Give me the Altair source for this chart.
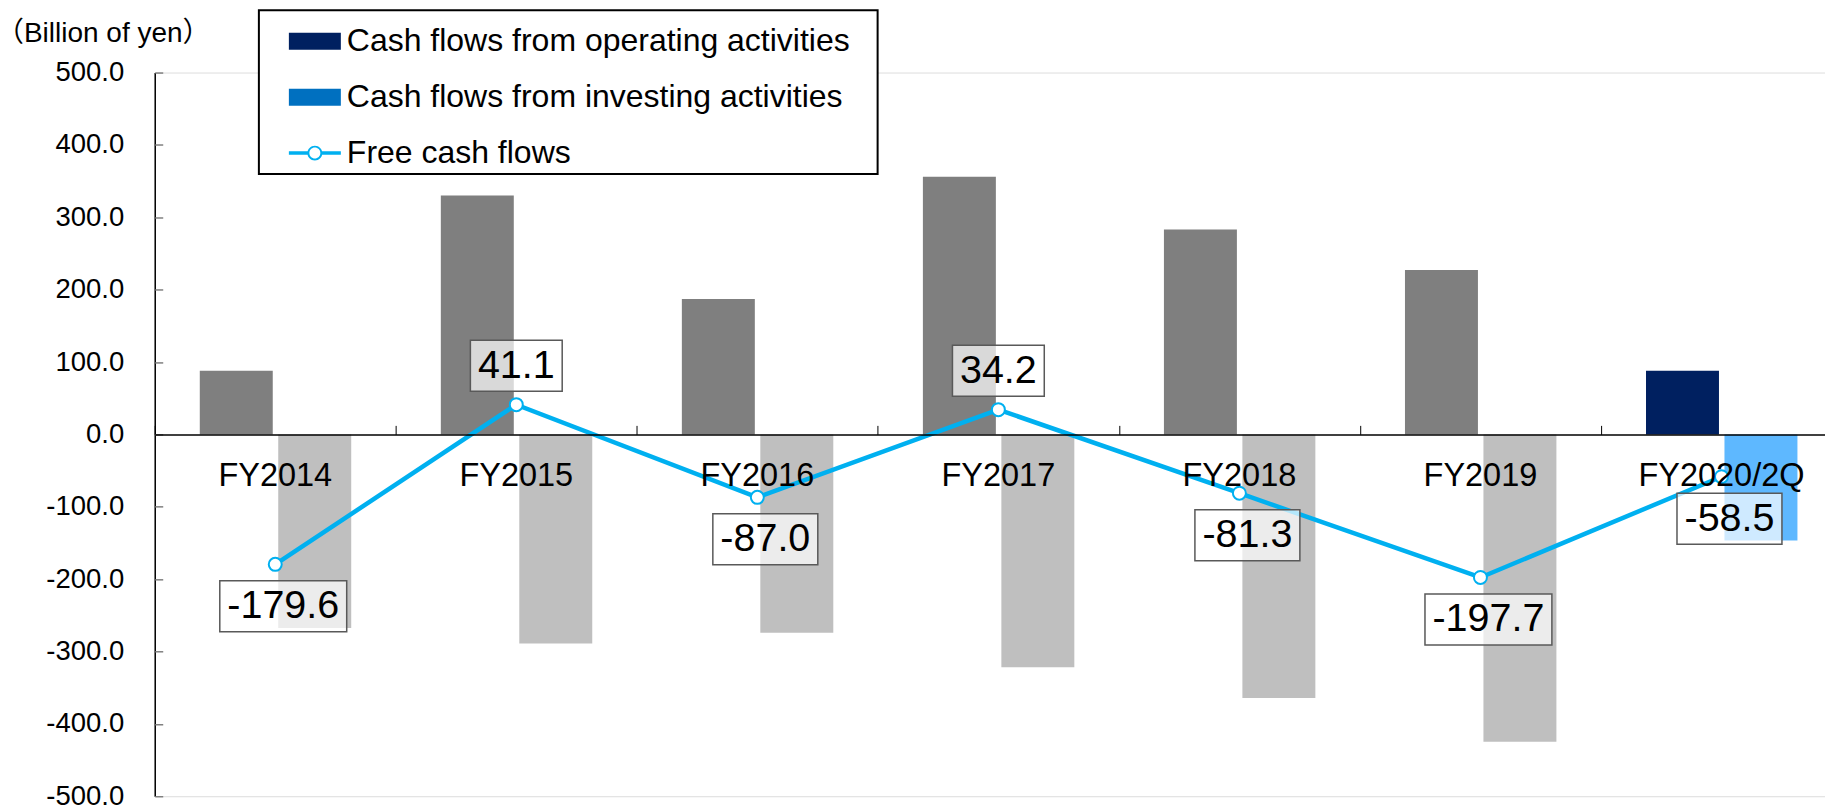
import altair as alt
import pandas as pd

# ---------------- data ----------------
categories = ["FY2014", "FY2015", "FY2016", "FY2017", "FY2018", "FY2019", "FY2020/2Q"]
operating = [88.0, 330.0, 187.0, 356.0, 283.0, 227.0, 88.0]
investing = [-267.6, -288.9, -274.0, -321.8, -364.3, -424.7, -146.5]
free_cf = [-179.6, 41.1, -87.0, 34.2, -81.3, -197.7, -58.5]
legend_names = [
    "Cash flows from operating activities",
    "Cash flows from investing activities",
    "Free cash flows",
]
y_ticks = [-500, -400, -300, -200, -100, 0, 100, 200, 300, 400, 500]

# ---------------- styles ----------------
FONT = "Liberation Sans"
OP_PAST, OP_NOW = "#7F7F7F", "#002060"
INV_PAST, INV_NOW = "#BFBFBF", "#5EB8FF"
LINE_C = "#00B0F0"
legend_colors = ["#002060", "#0070C0", "#00B0F0"]
RECT_PATH = "M-1,-0.327H1V0.327H-1Z"
LINE_PATH = (
    "M-1,-0.067V0.067H-0.25V-0.067Z "
    "M0.25,-0.067V0.067H1V-0.067Z "
    "M0.288,0A0.288,0.288 0 1,0 -0.288,0A0.288,0.288 0 1,0 0.288,0Z "
    "M0.212,0A0.212,0.212 0 1,1 -0.212,0A0.212,0.212 0 1,1 0.212,0Z"
)

W, H = 1671, 724
BAND_RANGE = [0, 1688]
LEFT, TOP = 154.8, 72.4
LABEL_FS = 39.5
NEG_DX, NEG_DY, POS_DY = 8, 42, -39

current = categories[-1]
op_df = pd.DataFrame({
    "cat": categories,
    "value": operating,
    "color": [OP_NOW if c == current else OP_PAST for c in categories],
})
inv_df = pd.DataFrame({
    "cat": categories,
    "value": investing,
    "color": [INV_NOW if c == current else INV_PAST for c in categories],
})
fcf_df = pd.DataFrame({
    "cat": categories,
    "fcf": free_cf,
    "label": [f"{v:.1f}" for v in free_cf],
})
leg_df = pd.DataFrame({"name": legend_names})

x_scale = alt.Scale(domain=categories, range=BAND_RANGE, paddingInner=0, paddingOuter=0)
y_scale = alt.Scale(domain=[-500, 500], nice=False, zero=False)

x_bottom = alt.X(
    "cat:N", sort=categories, scale=x_scale, title=None,
    axis=alt.Axis(
        orient="bottom", offset=-362, ticks=False, domainColor="black", domainWidth=1.5,
        labelFont=FONT, labelFontSize=32.5, labelColor="black", labelPadding=25,
        labelAngle=0, labelLimit=500, zindex=1, grid=False,
    ),
)
x_top = alt.X(
    "cat:N", sort=categories, scale=x_scale, title=None,
    axis=alt.Axis(
        orient="top", offset=-362, labels=False, domain=False, ticks=True,
        tickBand="extent", tickSize=9, tickColor="black", tickWidth=1, grid=False,
    ),
)
x_none = alt.X("cat:N", sort=categories, scale=x_scale, axis=None)

y_left = alt.Y(
    "value:Q", scale=y_scale,
    axis=alt.Axis(
        orient="left", values=y_ticks, ticks=False, domainColor="black", domainWidth=1.5,
        labelFont=FONT, labelFontSize=27.5, labelColor="black", labelPadding=31,
        labelExpr="replace(format(datum.value, '.1f'), '\u2212', '-')",
        title="\uff08Billion of yen\uff09", titleFont=FONT + ", Noto Sans CJK JP",
        titleFontSize=28, titleFontWeight="normal", titleColor="black",
        titleAngle=0, titleX=-52, titleY=-39, titleAlign="center", titleBaseline="middle",
        grid=False,
    ),
)
y_right = alt.Y(
    "value:Q", scale=y_scale,
    axis=alt.Axis(
        orient="right", offset=-W, values=y_ticks, labels=False, domain=False,
        ticks=True, tickSize=8, tickColor="#808080", tickWidth=1.5, title=None, grid=False,
    ),
)

op_bars = alt.Chart(op_df).mark_bar(width=73, xOffset=-39).encode(
    x=x_bottom, y=y_left, fill=alt.Fill("color:N", scale=None)
)
inv_bars = alt.Chart(inv_df).mark_bar(width=73, xOffset=39.5).encode(
    x=x_top, y=y_right, fill=alt.Fill("color:N", scale=None)
)

fcf_base = alt.Chart(fcf_df)
y_fcf = alt.Y("fcf:Q", scale=y_scale, axis=None)

line = fcf_base.mark_line(color=LINE_C, strokeWidth=4.5).encode(x=x_none, y=y_fcf)
pts = fcf_base.mark_point(
    filled=True, fill="white", stroke=LINE_C, strokeWidth=2, size=169, opacity=1
).encode(x=x_none, y=y_fcf)

boxes = fcf_base.transform_calculate(
    neg="datum.fcf < 0 ? 1 : 0"
).transform_calculate(
    w="15 + 21.96*(length(datum.label) - 1 - datum.neg) + 10.98 + 13.15*datum.neg",
    cy=f"datum.neg ? {NEG_DY} : {POS_DY}",
    cx=f"datum.neg ? {NEG_DX} : 0",
).transform_calculate(
    path=(
        "'M' + (datum.cx - datum.w/2)/(datum.w/2) + ',' + (datum.cy - 25.5)/(datum.w/2)"
        " + 'H' + (datum.cx + datum.w/2)/(datum.w/2) + 'V' + (datum.cy + 25.5)/(datum.w/2)"
        " + 'H' + (datum.cx - datum.w/2)/(datum.w/2) + 'Z'"
    ),
    sz="datum.w*datum.w",
).mark_point(
    filled=True, fill="white", fillOpacity=0.7, stroke="#595959", strokeWidth=1.5, opacity=1
).encode(
    x=x_none, y=y_fcf,
    shape=alt.Shape("path:N", scale=None),
    size=alt.Size("sz:Q", scale=None),
)

txt_neg = fcf_base.transform_filter("datum.fcf < 0").mark_text(
    font=FONT, fontSize=LABEL_FS, color="black", baseline="middle", dy=NEG_DY, dx=NEG_DX
).encode(x=x_none, y=y_fcf, text="label:N")
txt_pos = fcf_base.transform_filter("datum.fcf >= 0").mark_text(
    font=FONT, fontSize=LABEL_FS, color="black", baseline="middle", dy=POS_DY
).encode(x=x_none, y=y_fcf, text="label:N")

leg = alt.Legend(
    title="\u00a0", titleOrient="right", titleFontSize=2, titlePadding=23,
    orient="none", legendX=259 - LEFT, legendY=10 - TOP, padding=5,
    strokeColor="black", fillColor="white",
    labelFont=FONT, labelFontSize=32, labelColor="black", labelLimit=1000,
    symbolOffset=25, labelOffset=6,
    symbolSize=2704, symbolStrokeWidth=0, symbolOpacity=1, rowPadding=14,
)
legend_layer = alt.Chart(leg_df).mark_point(filled=True, opacity=0).encode(
    fill=alt.Fill("name:N", scale=alt.Scale(domain=legend_names, range=legend_colors), legend=leg),
    shape=alt.Shape("name:N", scale=alt.Scale(domain=legend_names, range=[RECT_PATH, RECT_PATH, LINE_PATH]), legend=leg),
)

chart = alt.layer(
    op_bars, inv_bars, line, pts, boxes, txt_neg, txt_pos, legend_layer
).resolve_axis(
    x="independent", y="independent"
).properties(
    width=W, height=H,
    autosize=alt.AutoSizeParams(type="none"),
    padding={"left": LEFT, "top": TOP, "right": 0, "bottom": 808 - TOP - H},
    background="white",
).configure_view(stroke=None).configure(font=FONT).configure_legend(strokeWidth=2)

chart.save("out.html", embed_options={"renderer": "svg", "actions": False})
